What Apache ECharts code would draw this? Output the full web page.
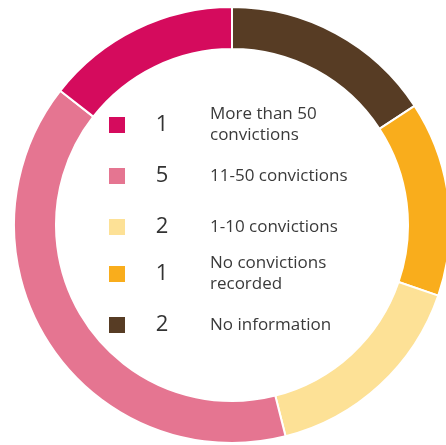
<!DOCTYPE html>
<html>
<head>
<meta charset="utf-8">
<script src="https://cdn.jsdelivr.net/npm/echarts@6/dist/echarts.min.js"></script>
<style>
  html, body { margin: 0; padding: 0; background: #fff; }
  #chart { width: 446px; height: 445px; }
</style>
</head>
<body>
<div id="chart"></div>
<script>
// Categories in drawing order (clockwise from 12 o'clock)
const categories = ['No information', 'No convictions recorded', '1-10 convictions', '11-50 convictions', 'More than 50 convictions'];
const counts = [2, 1, 2, 5, 1];
const colors = ['#573c24', '#f9ad1c', '#fde196', '#e57591', '#d50b5d'];

// Legend rows, listed top to bottom
const legendOrder = [4, 3, 2, 1, 0];
const legendLines = {
  4: ['More than 50', 'convictions'],
  3: ['11-50 convictions'],
  2: ['1-10 convictions'],
  1: ['No convictions', 'recorded'],
  0: ['No information']
};

const chart = echarts.init(document.getElementById('chart'), null, { renderer: 'canvas' });

const rowY = [125, 176, 227, 274, 325];
const graphics = [];
legendOrder.forEach((ci, row) => {
  const y = rowY[row];
  graphics.push({
    type: 'rect',
    shape: { x: 109, y: y - 8, width: 16, height: 16 },
    style: { fill: colors[ci] }
  });
  graphics.push({
    type: 'text',
    x: 162, y: y,
    style: {
      text: String(counts[ci]),
      font: '22px "Open Sans", sans-serif',
      fill: '#333',
      textAlign: 'center',
      textVerticalAlign: 'middle'
    }
  });
  graphics.push({
    type: 'text',
    x: 210, y: y,
    style: {
      text: legendLines[ci].join('\n'),
      font: '17px "Open Sans", sans-serif',
      lineHeight: 21,
      fill: '#3a3a3a',
      textAlign: 'left',
      textVerticalAlign: 'middle'
    }
  });
});

chart.setOption({
  animation: false,
  backgroundColor: '#fff',
  series: [{
    type: 'pie',
    center: [232, 225],
    radius: [176, 218],
    startAngle: 90,
    clockwise: true,
    minAngle: 52,
    label: { show: false },
    labelLine: { show: false },
    emphasis: { disabled: true },
    itemStyle: { borderColor: '#fff', borderWidth: 2 },
    data: categories.map((name, i) => ({
      name: name,
      value: counts[i],
      itemStyle: { color: colors[i] }
    }))
  }],
  graphic: graphics
});
</script>
</body>
</html>
